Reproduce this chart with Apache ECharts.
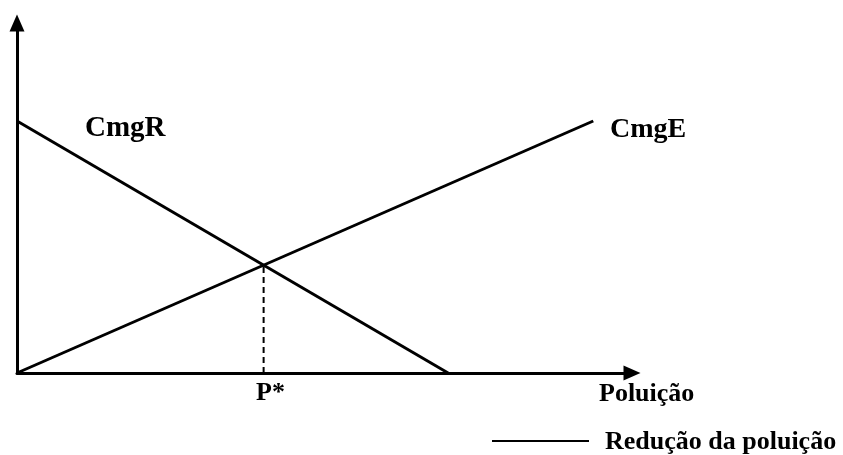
<!DOCTYPE html>
<html>
<head>
<meta charset="utf-8">
<script src="https://cdn.jsdelivr.net/npm/echarts@6/dist/echarts.min.js"></script>
<style>
html,body{margin:0;padding:0;background:#fff;}
#chart{width:843px;height:455px;}
</style>
</head>
<body>
<div id="chart"></div>
<script>
// Data (abstract units, 0..100 on each axis)
var cmgR = [[0, 72], [70.1, 0]];          // marginal cost of reduction
var cmgE = [[0, 0], [93.7, 72]];          // marginal cost of emission
var pStar = [[40.1, 0], [40.1, 30.8]];    // equilibrium P*
var labelsText = {cmgR: 'CmgR', cmgE: 'CmgE', pStar: 'P*', xName: 'Poluição', legend: 'Redução da poluição'};

var font = '"Liberation Serif", "Times New Roman", serif';
var chart = echarts.init(document.getElementById('chart'), null, {renderer: 'canvas'});
function txt(text, x, y, size) {
  return {type: 'text', left: x, top: y - size / 2, style: {text: text, font: 'bold ' + size + 'px ' + font, fill: '#000', verticalAlign: 'top'}, z: 100};
}
chart.setOption({
  animation: false,
  backgroundColor: '#fff',
  grid: {left: 17, right: 211, top: 23, bottom: 82, containLabel: false},
  xAxis: {
    type: 'value', min: 0, max: 100,
    axisLine: {show: true, onZero: false, symbol: ['none', 'triangle'], symbolSize: [15, 17], lineStyle: {color: '#000', width: 3}},
    axisTick: {show: false}, axisLabel: {show: false}, splitLine: {show: false}
  },
  yAxis: {
    type: 'value', min: 0, max: 100,
    axisLine: {show: true, onZero: false, symbol: ['none', 'triangle'], symbolSize: [15, 17], lineStyle: {color: '#000', width: 3}},
    axisTick: {show: false}, axisLabel: {show: false}, splitLine: {show: false}
  },
  series: [
    {type: 'line', name: labelsText.cmgR, data: cmgR, showSymbol: false, symbol: 'none', clip: false,
     lineStyle: {color: '#000', width: 3}},
    {type: 'line', name: labelsText.cmgE, data: cmgE, showSymbol: false, symbol: 'none', clip: false,
     lineStyle: {color: '#000', width: 3}},
    {type: 'line', name: labelsText.pStar, data: pStar, showSymbol: false, symbol: 'none', clip: false,
     lineStyle: {color: '#000', width: 2, type: [6, 4]}}
  ],
  graphic: [
    txt(labelsText.cmgR, 85, 129, 29),
    txt(labelsText.cmgE, 610, 130, 28),
    txt(labelsText.pStar, 256, 393.5, 26),
    txt(labelsText.xName, 599, 394, 26),
    {type: 'line', shape: {x1: 492, y1: 441, x2: 589, y2: 441}, style: {stroke: '#000', lineWidth: 2}, z: 100},
    txt(labelsText.legend, 605, 442.5, 26)
  ]
});
</script>
</body>
</html>
